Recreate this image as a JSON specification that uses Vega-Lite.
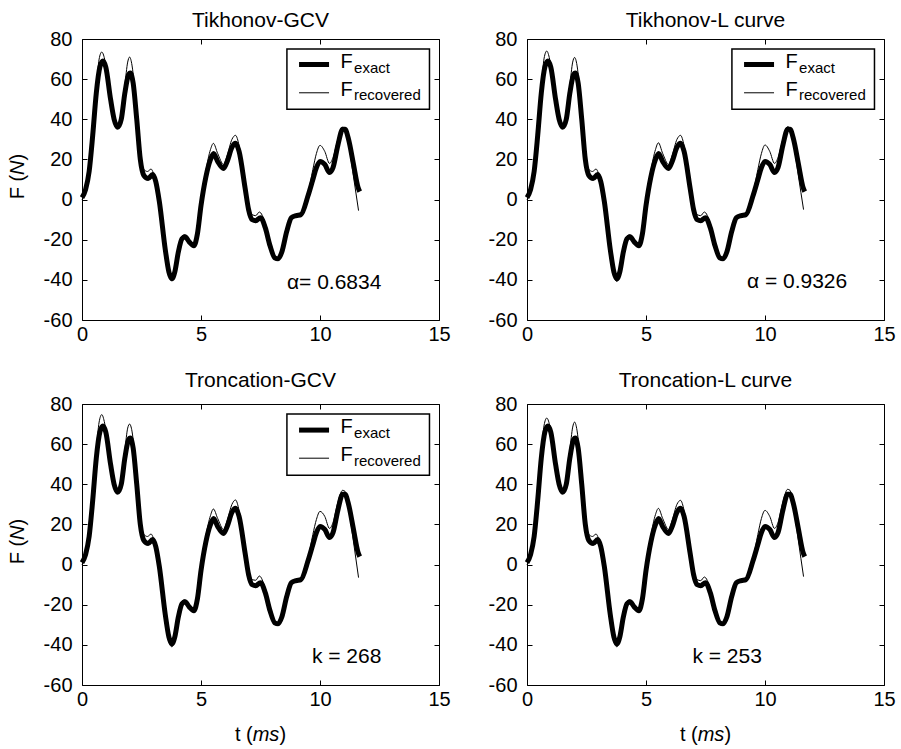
{
  "$schema": "https://vega.github.io/schema/vega-lite/v6.json",
  "background": "white",
  "padding": {"left": 7, "top": 9, "right": 4, "bottom": 0},
  "config": {
    "font": "Liberation Sans",
    "view": {"stroke": "black", "strokeWidth": 1},
    "axis": {
      "domain": false, "grid": false, "ticks": true, "tickSize": -5, "tickColor": "black", "tickWidth": 1,
      "labelFont": "Liberation Sans", "labelFontSize": 20, "labelColor": "black", "labelFlush": false
    },
    "title": {"font": "Liberation Sans", "fontSize": 21, "fontWeight": "normal", "color": "black", "anchor": "middle", "baseline": "alphabetic"},
    "text": {"font": "Liberation Sans", "color": "black", "fontSize": 20}
  },
  "datasets": {
    "exact": [
      {"t":0,"F":1},{"t":0.15,"F":5},{"t":0.3,"F":14},{"t":0.45,"F":32},{"t":0.6,"F":53},{"t":0.75,"F":66},{"t":0.88,"F":69},{"t":1.0,"F":66},{"t":1.2,"F":50},{"t":1.35,"F":40},{"t":1.5,"F":36},{"t":1.65,"F":40},{"t":1.8,"F":53},{"t":1.95,"F":62},{"t":2.03,"F":63},{"t":2.15,"F":58},{"t":2.3,"F":40},{"t":2.45,"F":20},{"t":2.6,"F":12},{"t":2.78,"F":10.5},{"t":2.97,"F":12.5},{"t":3.1,"F":9},{"t":3.25,"F":-1},{"t":3.5,"F":-25},{"t":3.65,"F":-36},{"t":3.78,"F":-39.5},{"t":3.9,"F":-36},{"t":4.05,"F":-26},{"t":4.2,"F":-19.5},{"t":4.33,"F":-18.5},{"t":4.5,"F":-21},{"t":4.7,"F":-23},{"t":4.85,"F":-17},{"t":5.0,"F":-3},{"t":5.2,"F":11},{"t":5.4,"F":20},{"t":5.53,"F":23},{"t":5.7,"F":19},{"t":5.95,"F":15.5},{"t":6.1,"F":19},{"t":6.3,"F":26},{"t":6.45,"F":28},{"t":6.6,"F":24},{"t":6.85,"F":6},{"t":7.0,"F":-5},{"t":7.15,"F":-10},{"t":7.3,"F":-10.5},{"t":7.5,"F":-9},{"t":7.7,"F":-14},{"t":7.9,"F":-23},{"t":8.1,"F":-29},{"t":8.24,"F":-29.5},{"t":8.4,"F":-26},{"t":8.6,"F":-16},{"t":8.8,"F":-9},{"t":9.0,"F":-8},{"t":9.2,"F":-7.5},{"t":9.5,"F":2},{"t":9.7,"F":10},{"t":9.85,"F":16},{"t":10.0,"F":19},{"t":10.2,"F":17.5},{"t":10.4,"F":13.5},{"t":10.55,"F":16},{"t":10.75,"F":27},{"t":10.95,"F":35},{"t":11.05,"F":35},{"t":11.2,"F":30},{"t":11.4,"F":18},{"t":11.6,"F":6},{"t":11.67,"F":4}
    ],
    "recovered": [
      {"panel":"TG","t":0,"F":0},{"panel":"TG","t":0.15,"F":4},{"panel":"TG","t":0.3,"F":14},{"panel":"TG","t":0.45,"F":33},{"panel":"TG","t":0.6,"F":56},{"panel":"TG","t":0.72,"F":70},{"panel":"TG","t":0.83,"F":73.5},{"panel":"TG","t":0.95,"F":70},{"panel":"TG","t":1.1,"F":58},{"panel":"TG","t":1.25,"F":45},{"panel":"TG","t":1.4,"F":38.5},{"panel":"TG","t":1.5,"F":37},{"panel":"TG","t":1.65,"F":42},{"panel":"TG","t":1.8,"F":57},{"panel":"TG","t":1.92,"F":68.5},{"panel":"TG","t":2.0,"F":71},{"panel":"TG","t":2.1,"F":67},{"panel":"TG","t":2.3,"F":42},{"panel":"TG","t":2.45,"F":22},{"panel":"TG","t":2.6,"F":15},{"panel":"TG","t":2.75,"F":14},{"panel":"TG","t":2.9,"F":15.2},{"panel":"TG","t":3.05,"F":11},{"panel":"TG","t":3.25,"F":-2},{"panel":"TG","t":3.5,"F":-27},{"panel":"TG","t":3.65,"F":-38},{"panel":"TG","t":3.78,"F":-40.5},{"panel":"TG","t":3.9,"F":-37},{"panel":"TG","t":4.05,"F":-26},{"panel":"TG","t":4.2,"F":-18.5},{"panel":"TG","t":4.3,"F":-17.5},{"panel":"TG","t":4.5,"F":-20},{"panel":"TG","t":4.7,"F":-22.5},{"panel":"TG","t":4.85,"F":-16},{"panel":"TG","t":5.0,"F":-2},{"panel":"TG","t":5.2,"F":14},{"panel":"TG","t":5.4,"F":25},{"panel":"TG","t":5.52,"F":28},{"panel":"TG","t":5.7,"F":23},{"panel":"TG","t":5.95,"F":17.5},{"panel":"TG","t":6.1,"F":22},{"panel":"TG","t":6.3,"F":30},{"panel":"TG","t":6.45,"F":32},{"panel":"TG","t":6.6,"F":27},{"panel":"TG","t":6.85,"F":7},{"panel":"TG","t":7.0,"F":-3},{"panel":"TG","t":7.15,"F":-7.5},{"panel":"TG","t":7.3,"F":-8},{"panel":"TG","t":7.45,"F":-6.2},{"panel":"TG","t":7.7,"F":-12},{"panel":"TG","t":7.9,"F":-22},{"panel":"TG","t":8.1,"F":-29.5},{"panel":"TG","t":8.24,"F":-30},{"panel":"TG","t":8.4,"F":-26},{"panel":"TG","t":8.6,"F":-15},{"panel":"TG","t":8.8,"F":-8.5},{"panel":"TG","t":9.0,"F":-7.5},{"panel":"TG","t":9.2,"F":-6.5},{"panel":"TG","t":9.5,"F":3},{"panel":"TG","t":9.7,"F":15},{"panel":"TG","t":9.85,"F":23},{"panel":"TG","t":10.0,"F":27},{"panel":"TG","t":10.2,"F":24},{"panel":"TG","t":10.4,"F":18},{"panel":"TG","t":10.55,"F":21},{"panel":"TG","t":10.75,"F":30},{"panel":"TG","t":10.95,"F":36},{"panel":"TG","t":11.05,"F":35.5},{"panel":"TG","t":11.2,"F":28},{"panel":"TG","t":11.4,"F":12},{"panel":"TG","t":11.62,"F":-5.5},

      {"panel":"TL","t":0,"F":0},{"panel":"TL","t":0.15,"F":4},{"panel":"TL","t":0.3,"F":14},{"panel":"TL","t":0.45,"F":33},{"panel":"TL","t":0.6,"F":56},{"panel":"TL","t":0.72,"F":70.5},{"panel":"TL","t":0.83,"F":74},{"panel":"TL","t":0.95,"F":70},{"panel":"TL","t":1.1,"F":58},{"panel":"TL","t":1.25,"F":45},{"panel":"TL","t":1.4,"F":38.5},{"panel":"TL","t":1.5,"F":37},{"panel":"TL","t":1.65,"F":42},{"panel":"TL","t":1.8,"F":57},{"panel":"TL","t":1.92,"F":68.5},{"panel":"TL","t":2.0,"F":70.8},{"panel":"TL","t":2.1,"F":67},{"panel":"TL","t":2.3,"F":42},{"panel":"TL","t":2.45,"F":22},{"panel":"TL","t":2.6,"F":15},{"panel":"TL","t":2.75,"F":14},{"panel":"TL","t":2.9,"F":15.2},{"panel":"TL","t":3.05,"F":11},{"panel":"TL","t":3.25,"F":-2},{"panel":"TL","t":3.5,"F":-27},{"panel":"TL","t":3.65,"F":-38},{"panel":"TL","t":3.78,"F":-40.8},{"panel":"TL","t":3.9,"F":-37},{"panel":"TL","t":4.05,"F":-26},{"panel":"TL","t":4.2,"F":-18.5},{"panel":"TL","t":4.3,"F":-17.5},{"panel":"TL","t":4.5,"F":-20},{"panel":"TL","t":4.7,"F":-22.5},{"panel":"TL","t":4.85,"F":-16},{"panel":"TL","t":5.0,"F":-2},{"panel":"TL","t":5.2,"F":14},{"panel":"TL","t":5.4,"F":25},{"panel":"TL","t":5.52,"F":28.3},{"panel":"TL","t":5.7,"F":23},{"panel":"TL","t":5.95,"F":17.5},{"panel":"TL","t":6.1,"F":22},{"panel":"TL","t":6.3,"F":30},{"panel":"TL","t":6.45,"F":32},{"panel":"TL","t":6.6,"F":27},{"panel":"TL","t":6.85,"F":7},{"panel":"TL","t":7.0,"F":-3},{"panel":"TL","t":7.15,"F":-7.5},{"panel":"TL","t":7.3,"F":-8},{"panel":"TL","t":7.45,"F":-6.2},{"panel":"TL","t":7.7,"F":-12},{"panel":"TL","t":7.9,"F":-22},{"panel":"TL","t":8.1,"F":-29.5},{"panel":"TL","t":8.24,"F":-30},{"panel":"TL","t":8.4,"F":-26},{"panel":"TL","t":8.6,"F":-15},{"panel":"TL","t":8.8,"F":-8.5},{"panel":"TL","t":9.0,"F":-7.5},{"panel":"TL","t":9.2,"F":-6.5},{"panel":"TL","t":9.5,"F":3},{"panel":"TL","t":9.7,"F":15},{"panel":"TL","t":9.85,"F":23},{"panel":"TL","t":10.0,"F":27.2},{"panel":"TL","t":10.2,"F":24},{"panel":"TL","t":10.4,"F":18},{"panel":"TL","t":10.55,"F":21},{"panel":"TL","t":10.75,"F":30},{"panel":"TL","t":10.95,"F":36.3},{"panel":"TL","t":11.05,"F":35.5},{"panel":"TL","t":11.2,"F":28},{"panel":"TL","t":11.4,"F":12},{"panel":"TL","t":11.62,"F":-5},

      {"panel":"CG","t":0,"F":0},{"panel":"CG","t":0.15,"F":4},{"panel":"CG","t":0.3,"F":14},{"panel":"CG","t":0.45,"F":33},{"panel":"CG","t":0.6,"F":57},{"panel":"CG","t":0.72,"F":71},{"panel":"CG","t":0.83,"F":74.7},{"panel":"CG","t":0.95,"F":70.5},{"panel":"CG","t":1.1,"F":58},{"panel":"CG","t":1.25,"F":45},{"panel":"CG","t":1.4,"F":38.5},{"panel":"CG","t":1.5,"F":37},{"panel":"CG","t":1.65,"F":42},{"panel":"CG","t":1.8,"F":57},{"panel":"CG","t":1.92,"F":68},{"panel":"CG","t":2.0,"F":70},{"panel":"CG","t":2.1,"F":66.5},{"panel":"CG","t":2.3,"F":42},{"panel":"CG","t":2.45,"F":22},{"panel":"CG","t":2.6,"F":15},{"panel":"CG","t":2.75,"F":14},{"panel":"CG","t":2.9,"F":15.2},{"panel":"CG","t":3.05,"F":11},{"panel":"CG","t":3.25,"F":-2},{"panel":"CG","t":3.5,"F":-27},{"panel":"CG","t":3.65,"F":-38.5},{"panel":"CG","t":3.78,"F":-41},{"panel":"CG","t":3.9,"F":-37},{"panel":"CG","t":4.05,"F":-26},{"panel":"CG","t":4.2,"F":-18.5},{"panel":"CG","t":4.3,"F":-17.5},{"panel":"CG","t":4.5,"F":-20},{"panel":"CG","t":4.7,"F":-22.5},{"panel":"CG","t":4.85,"F":-16},{"panel":"CG","t":5.0,"F":-2},{"panel":"CG","t":5.2,"F":14},{"panel":"CG","t":5.4,"F":24.5},{"panel":"CG","t":5.52,"F":27.7},{"panel":"CG","t":5.7,"F":23},{"panel":"CG","t":5.95,"F":17.5},{"panel":"CG","t":6.1,"F":22},{"panel":"CG","t":6.3,"F":30},{"panel":"CG","t":6.45,"F":32.2},{"panel":"CG","t":6.6,"F":27},{"panel":"CG","t":6.85,"F":7},{"panel":"CG","t":7.0,"F":-3},{"panel":"CG","t":7.15,"F":-7.5},{"panel":"CG","t":7.3,"F":-7.8},{"panel":"CG","t":7.45,"F":-5.7},{"panel":"CG","t":7.7,"F":-12},{"panel":"CG","t":7.9,"F":-22},{"panel":"CG","t":8.1,"F":-29.5},{"panel":"CG","t":8.24,"F":-30},{"panel":"CG","t":8.4,"F":-26},{"panel":"CG","t":8.6,"F":-15},{"panel":"CG","t":8.8,"F":-8.5},{"panel":"CG","t":9.0,"F":-7.5},{"panel":"CG","t":9.2,"F":-6.5},{"panel":"CG","t":9.5,"F":3},{"panel":"CG","t":9.7,"F":15},{"panel":"CG","t":9.85,"F":22.5},{"panel":"CG","t":10.0,"F":26.5},{"panel":"CG","t":10.2,"F":24},{"panel":"CG","t":10.4,"F":18},{"panel":"CG","t":10.55,"F":21},{"panel":"CG","t":10.75,"F":31},{"panel":"CG","t":10.95,"F":37},{"panel":"CG","t":11.05,"F":36.5},{"panel":"CG","t":11.2,"F":28.5},{"panel":"CG","t":11.4,"F":12},{"panel":"CG","t":11.62,"F":-6.5},

      {"panel":"CL","t":0,"F":0},{"panel":"CL","t":0.15,"F":4},{"panel":"CL","t":0.3,"F":14},{"panel":"CL","t":0.45,"F":33},{"panel":"CL","t":0.6,"F":56},{"panel":"CL","t":0.72,"F":69.5},{"panel":"CL","t":0.83,"F":73},{"panel":"CL","t":0.95,"F":69.5},{"panel":"CL","t":1.1,"F":58},{"panel":"CL","t":1.25,"F":45},{"panel":"CL","t":1.4,"F":38.5},{"panel":"CL","t":1.5,"F":37},{"panel":"CL","t":1.65,"F":42},{"panel":"CL","t":1.8,"F":57},{"panel":"CL","t":1.92,"F":68.5},{"panel":"CL","t":2.0,"F":71},{"panel":"CL","t":2.1,"F":67},{"panel":"CL","t":2.3,"F":42},{"panel":"CL","t":2.45,"F":22},{"panel":"CL","t":2.6,"F":15},{"panel":"CL","t":2.75,"F":14},{"panel":"CL","t":2.9,"F":15.2},{"panel":"CL","t":3.05,"F":11},{"panel":"CL","t":3.25,"F":-2},{"panel":"CL","t":3.5,"F":-27},{"panel":"CL","t":3.65,"F":-38.5},{"panel":"CL","t":3.78,"F":-41},{"panel":"CL","t":3.9,"F":-37},{"panel":"CL","t":4.05,"F":-26},{"panel":"CL","t":4.2,"F":-18.5},{"panel":"CL","t":4.3,"F":-17.5},{"panel":"CL","t":4.5,"F":-20},{"panel":"CL","t":4.7,"F":-22.5},{"panel":"CL","t":4.85,"F":-16},{"panel":"CL","t":5.0,"F":-2},{"panel":"CL","t":5.2,"F":14},{"panel":"CL","t":5.4,"F":25},{"panel":"CL","t":5.52,"F":28},{"panel":"CL","t":5.7,"F":23},{"panel":"CL","t":5.95,"F":17.5},{"panel":"CL","t":6.1,"F":22},{"panel":"CL","t":6.3,"F":30},{"panel":"CL","t":6.45,"F":32},{"panel":"CL","t":6.6,"F":27},{"panel":"CL","t":6.85,"F":7},{"panel":"CL","t":7.0,"F":-3},{"panel":"CL","t":7.15,"F":-7.5},{"panel":"CL","t":7.3,"F":-8},{"panel":"CL","t":7.45,"F":-6.2},{"panel":"CL","t":7.7,"F":-12},{"panel":"CL","t":7.9,"F":-22},{"panel":"CL","t":8.1,"F":-29.5},{"panel":"CL","t":8.24,"F":-30},{"panel":"CL","t":8.4,"F":-26},{"panel":"CL","t":8.6,"F":-15},{"panel":"CL","t":8.8,"F":-8.5},{"panel":"CL","t":9.0,"F":-7.5},{"panel":"CL","t":9.2,"F":-6.5},{"panel":"CL","t":9.5,"F":3},{"panel":"CL","t":9.7,"F":15},{"panel":"CL","t":9.85,"F":23},{"panel":"CL","t":10.0,"F":27},{"panel":"CL","t":10.2,"F":24},{"panel":"CL","t":10.4,"F":18},{"panel":"CL","t":10.55,"F":21},{"panel":"CL","t":10.75,"F":31},{"panel":"CL","t":10.95,"F":37.5},{"panel":"CL","t":11.05,"F":37},{"panel":"CL","t":11.2,"F":29},{"panel":"CL","t":11.4,"F":12},{"panel":"CL","t":11.62,"F":-6}
    ]
  },
  "columns": 2,
  "spacing": {"row": 84, "column": 88},
  "bounds": "flush",
  "concat": [
    {
      "width": 357, "height": 281,
      "title": {"text": "Tikhonov-GCV", "offset": -2},
      "resolve": {"axis": {"x": "independent", "y": "independent"}},
      "layer": [
        {"data": {"name": "exact"}, "mark": {"type": "line", "interpolate": "monotone", "strokeWidth": 5, "color": "black"},
         "encoding": {
           "x": {"field": "t", "type": "quantitative", "scale": {"domain": [0, 15], "nice": false, "zero": false}, "axis": {"orient": "bottom", "title": null, "values": [0, 5, 10, 15], "labelPadding": 9.5, "labelExpr": "'' + datum.value"}},
           "y": {"field": "F", "type": "quantitative", "scale": {"domain": [-60, 80], "nice": false, "zero": false}, "axis": {"orient": "left", "title": null, "values": [-60, -40, -20, 0, 20, 40, 60, 80], "labelPadding": 15, "labelExpr": "'' + datum.value"}}}},
        {"data": {"name": "recovered"}, "transform": [{"filter": {"field": "panel", "equal": "TG"}}], "mark": {"type": "line", "interpolate": "monotone", "strokeWidth": 1, "color": "black"},
         "encoding": {
           "x": {"field": "t", "type": "quantitative", "axis": {"orient": "top", "title": null, "labels": false, "values": [0, 5, 10, 15]}},
           "y": {"field": "F", "type": "quantitative", "axis": {"orient": "right", "title": null, "labels": false, "values": [-60, -40, -20, 0, 20, 40, 60, 80]}}}},
        {"data": {"values": [{}]}, "mark": {"type": "rect", "fill": "white", "stroke": "black", "strokeWidth": 1.5},
         "encoding": {"x": {"datum": 8.61, "axis": null}, "x2": {"datum": 14.6}, "y": {"datum": 75, "axis": null}, "y2": {"datum": 45}}},
        {"data": {"values": [{}]}, "mark": {"type": "rule", "strokeWidth": 5, "color": "black"},
         "encoding": {"x": {"datum": 9.12, "axis": null}, "x2": {"datum": 10.38}, "y": {"datum": 67.3, "axis": null}}},
        {"data": {"values": [{}]}, "mark": {"type": "rule", "strokeWidth": 1, "color": "black"},
         "encoding": {"x": {"datum": 9.12, "axis": null}, "x2": {"datum": 10.38}, "y": {"datum": 53.2, "axis": null}}},
        {"data": {"values": [{}]}, "mark": {"type": "text", "text": "F", "align": "left", "baseline": "alphabetic", "fontSize": 20},
         "encoding": {"x": {"datum": 10.86, "axis": null}, "y": {"datum": 65.8, "axis": null}}},
        {"data": {"values": [{}]}, "mark": {"type": "text", "text": "exact", "align": "left", "baseline": "alphabetic", "fontSize": 15},
         "encoding": {"x": {"datum": 11.43, "axis": null}, "y": {"datum": 63.2, "axis": null}}},
        {"data": {"values": [{}]}, "mark": {"type": "text", "text": "F", "align": "left", "baseline": "alphabetic", "fontSize": 20},
         "encoding": {"x": {"datum": 10.86, "axis": null}, "y": {"datum": 51.8, "axis": null}}},
        {"data": {"values": [{}]}, "mark": {"type": "text", "text": "recovered", "align": "left", "baseline": "alphabetic", "fontSize": 15},
         "encoding": {"x": {"datum": 11.43, "axis": null}, "y": {"datum": 49.5, "axis": null}}},
        {"data": {"values": [{}]}, "mark": {"type": "text", "text": "α= 0.6834", "align": "left", "baseline": "alphabetic", "fontSize": 21},
         "encoding": {"x": {"datum": 8.61, "axis": null}, "y": {"datum": -44.5, "axis": null}}},
        {"data": {"values": [{}]}, "mark": {"type": "text", "text": "F (", "angle": 270, "align": "left", "baseline": "alphabetic", "dx": -19.8, "dy": -58},
         "encoding": {"x": {"datum": 0, "axis": null}, "y": {"datum": 10, "axis": null}}},
        {"data": {"values": [{}]}, "mark": {"type": "text", "text": "N", "fontStyle": "italic", "angle": 270, "align": "left", "baseline": "alphabetic", "dx": 4.6, "dy": -58},
         "encoding": {"x": {"datum": 0, "axis": null}, "y": {"datum": 10, "axis": null}}},
        {"data": {"values": [{}]}, "mark": {"type": "text", "text": ")", "angle": 270, "align": "left", "baseline": "alphabetic", "dx": 19, "dy": -58},
         "encoding": {"x": {"datum": 0, "axis": null}, "y": {"datum": 10, "axis": null}}}
      ]
    },
    {
      "width": 357, "height": 281,
      "title": {"text": "Tikhonov-L curve", "offset": -2},
      "resolve": {"axis": {"x": "independent", "y": "independent"}},
      "layer": [
        {"data": {"name": "exact"}, "mark": {"type": "line", "interpolate": "monotone", "strokeWidth": 5, "color": "black"},
         "encoding": {
           "x": {"field": "t", "type": "quantitative", "scale": {"domain": [0, 15], "nice": false, "zero": false}, "axis": {"orient": "bottom", "title": null, "values": [0, 5, 10, 15], "labelPadding": 9.5, "labelExpr": "'' + datum.value"}},
           "y": {"field": "F", "type": "quantitative", "scale": {"domain": [-60, 80], "nice": false, "zero": false}, "axis": {"orient": "left", "title": null, "values": [-60, -40, -20, 0, 20, 40, 60, 80], "labelPadding": 15, "labelExpr": "'' + datum.value"}}}},
        {"data": {"name": "recovered"}, "transform": [{"filter": {"field": "panel", "equal": "TL"}}], "mark": {"type": "line", "interpolate": "monotone", "strokeWidth": 1, "color": "black"},
         "encoding": {
           "x": {"field": "t", "type": "quantitative", "axis": {"orient": "top", "title": null, "labels": false, "values": [0, 5, 10, 15]}},
           "y": {"field": "F", "type": "quantitative", "axis": {"orient": "right", "title": null, "labels": false, "values": [-60, -40, -20, 0, 20, 40, 60, 80]}}}},
        {"data": {"values": [{}]}, "mark": {"type": "rect", "fill": "white", "stroke": "black", "strokeWidth": 1.5},
         "encoding": {"x": {"datum": 8.61, "axis": null}, "x2": {"datum": 14.6}, "y": {"datum": 75, "axis": null}, "y2": {"datum": 45}}},
        {"data": {"values": [{}]}, "mark": {"type": "rule", "strokeWidth": 5, "color": "black"},
         "encoding": {"x": {"datum": 9.12, "axis": null}, "x2": {"datum": 10.38}, "y": {"datum": 67.3, "axis": null}}},
        {"data": {"values": [{}]}, "mark": {"type": "rule", "strokeWidth": 1, "color": "black"},
         "encoding": {"x": {"datum": 9.12, "axis": null}, "x2": {"datum": 10.38}, "y": {"datum": 53.2, "axis": null}}},
        {"data": {"values": [{}]}, "mark": {"type": "text", "text": "F", "align": "left", "baseline": "alphabetic", "fontSize": 20},
         "encoding": {"x": {"datum": 10.86, "axis": null}, "y": {"datum": 65.8, "axis": null}}},
        {"data": {"values": [{}]}, "mark": {"type": "text", "text": "exact", "align": "left", "baseline": "alphabetic", "fontSize": 15},
         "encoding": {"x": {"datum": 11.43, "axis": null}, "y": {"datum": 63.2, "axis": null}}},
        {"data": {"values": [{}]}, "mark": {"type": "text", "text": "F", "align": "left", "baseline": "alphabetic", "fontSize": 20},
         "encoding": {"x": {"datum": 10.86, "axis": null}, "y": {"datum": 51.8, "axis": null}}},
        {"data": {"values": [{}]}, "mark": {"type": "text", "text": "recovered", "align": "left", "baseline": "alphabetic", "fontSize": 15},
         "encoding": {"x": {"datum": 11.43, "axis": null}, "y": {"datum": 49.5, "axis": null}}},
        {"data": {"values": [{}]}, "mark": {"type": "text", "text": "α = 0.9326", "align": "left", "baseline": "alphabetic", "fontSize": 21},
         "encoding": {"x": {"datum": 9.24, "axis": null}, "y": {"datum": -44, "axis": null}}}
      ]
    },
    {
      "width": 357, "height": 281,
      "title": {"text": "Troncation-GCV", "offset": 3.5},
      "resolve": {"axis": {"x": "independent", "y": "independent"}},
      "layer": [
        {"data": {"name": "exact"}, "mark": {"type": "line", "interpolate": "monotone", "strokeWidth": 5, "color": "black"},
         "encoding": {
           "x": {"field": "t", "type": "quantitative", "scale": {"domain": [0, 15], "nice": false, "zero": false}, "axis": {"orient": "bottom", "title": null, "values": [0, 5, 10, 15], "labelPadding": 9.5, "labelExpr": "'' + datum.value"}},
           "y": {"field": "F", "type": "quantitative", "scale": {"domain": [-60, 80], "nice": false, "zero": false}, "axis": {"orient": "left", "title": null, "values": [-60, -40, -20, 0, 20, 40, 60, 80], "labelPadding": 15, "labelExpr": "'' + datum.value"}}}},
        {"data": {"name": "recovered"}, "transform": [{"filter": {"field": "panel", "equal": "CG"}}], "mark": {"type": "line", "interpolate": "monotone", "strokeWidth": 1, "color": "black"},
         "encoding": {
           "x": {"field": "t", "type": "quantitative", "axis": {"orient": "top", "title": null, "labels": false, "values": [0, 5, 10, 15]}},
           "y": {"field": "F", "type": "quantitative", "axis": {"orient": "right", "title": null, "labels": false, "values": [-60, -40, -20, 0, 20, 40, 60, 80]}}}},
        {"data": {"values": [{}]}, "mark": {"type": "rect", "fill": "white", "stroke": "black", "strokeWidth": 1.5},
         "encoding": {"x": {"datum": 8.61, "axis": null}, "x2": {"datum": 14.6}, "y": {"datum": 75, "axis": null}, "y2": {"datum": 44.5}}},
        {"data": {"values": [{}]}, "mark": {"type": "rule", "strokeWidth": 5, "color": "black"},
         "encoding": {"x": {"datum": 9.12, "axis": null}, "x2": {"datum": 10.38}, "y": {"datum": 67, "axis": null}}},
        {"data": {"values": [{}]}, "mark": {"type": "rule", "strokeWidth": 1, "color": "black"},
         "encoding": {"x": {"datum": 9.12, "axis": null}, "x2": {"datum": 10.38}, "y": {"datum": 53, "axis": null}}},
        {"data": {"values": [{}]}, "mark": {"type": "text", "text": "F", "align": "left", "baseline": "alphabetic", "fontSize": 20},
         "encoding": {"x": {"datum": 10.86, "axis": null}, "y": {"datum": 65.5, "axis": null}}},
        {"data": {"values": [{}]}, "mark": {"type": "text", "text": "exact", "align": "left", "baseline": "alphabetic", "fontSize": 15},
         "encoding": {"x": {"datum": 11.43, "axis": null}, "y": {"datum": 63, "axis": null}}},
        {"data": {"values": [{}]}, "mark": {"type": "text", "text": "F", "align": "left", "baseline": "alphabetic", "fontSize": 20},
         "encoding": {"x": {"datum": 10.86, "axis": null}, "y": {"datum": 51.5, "axis": null}}},
        {"data": {"values": [{}]}, "mark": {"type": "text", "text": "recovered", "align": "left", "baseline": "alphabetic", "fontSize": 15},
         "encoding": {"x": {"datum": 11.43, "axis": null}, "y": {"datum": 49.2, "axis": null}}},
        {"data": {"values": [{}]}, "mark": {"type": "text", "text": "k = 268", "align": "left", "baseline": "alphabetic", "fontSize": 21},
         "encoding": {"x": {"datum": 9.66, "axis": null}, "y": {"datum": -49, "axis": null}}},
        {"data": {"values": [{}]}, "mark": {"type": "text", "text": "F (", "angle": 270, "align": "left", "baseline": "alphabetic", "dx": -19.8, "dy": -58},
         "encoding": {"x": {"datum": 0, "axis": null}, "y": {"datum": 10, "axis": null}}},
        {"data": {"values": [{}]}, "mark": {"type": "text", "text": "N", "fontStyle": "italic", "angle": 270, "align": "left", "baseline": "alphabetic", "dx": 4.6, "dy": -58},
         "encoding": {"x": {"datum": 0, "axis": null}, "y": {"datum": 10, "axis": null}}},
        {"data": {"values": [{}]}, "mark": {"type": "text", "text": ")", "angle": 270, "align": "left", "baseline": "alphabetic", "dx": 19, "dy": -58},
         "encoding": {"x": {"datum": 0, "axis": null}, "y": {"datum": 10, "axis": null}}},
        {"data": {"values": [{}]}, "mark": {"type": "text", "text": "t (", "align": "left", "baseline": "alphabetic", "dx": -25.6, "dy": 55.5},
         "encoding": {"x": {"datum": 7.5, "axis": null}, "y": {"datum": -60, "axis": null}}},
        {"data": {"values": [{}]}, "mark": {"type": "text", "text": "ms", "fontStyle": "italic", "align": "left", "baseline": "alphabetic", "dx": -7.8, "dy": 55.5},
         "encoding": {"x": {"datum": 7.5, "axis": null}, "y": {"datum": -60, "axis": null}}},
        {"data": {"values": [{}]}, "mark": {"type": "text", "text": ")", "align": "left", "baseline": "alphabetic", "dx": 18.9, "dy": 55.5},
         "encoding": {"x": {"datum": 7.5, "axis": null}, "y": {"datum": -60, "axis": null}}}
      ]
    },
    {
      "width": 357, "height": 281,
      "title": {"text": "Troncation-L curve", "offset": 3.5},
      "resolve": {"axis": {"x": "independent", "y": "independent"}},
      "layer": [
        {"data": {"name": "exact"}, "mark": {"type": "line", "interpolate": "monotone", "strokeWidth": 5, "color": "black"},
         "encoding": {
           "x": {"field": "t", "type": "quantitative", "scale": {"domain": [0, 15], "nice": false, "zero": false}, "axis": {"orient": "bottom", "title": null, "values": [0, 5, 10, 15], "labelPadding": 9.5, "labelExpr": "'' + datum.value"}},
           "y": {"field": "F", "type": "quantitative", "scale": {"domain": [-60, 80], "nice": false, "zero": false}, "axis": {"orient": "left", "title": null, "values": [-60, -40, -20, 0, 20, 40, 60, 80], "labelPadding": 15, "labelExpr": "'' + datum.value"}}}},
        {"data": {"name": "recovered"}, "transform": [{"filter": {"field": "panel", "equal": "CL"}}], "mark": {"type": "line", "interpolate": "monotone", "strokeWidth": 1, "color": "black"},
         "encoding": {
           "x": {"field": "t", "type": "quantitative", "axis": {"orient": "top", "title": null, "labels": false, "values": [0, 5, 10, 15]}},
           "y": {"field": "F", "type": "quantitative", "axis": {"orient": "right", "title": null, "labels": false, "values": [-60, -40, -20, 0, 20, 40, 60, 80]}}}},
        {"data": {"values": [{}]}, "mark": {"type": "text", "text": "k = 253", "align": "left", "baseline": "alphabetic", "fontSize": 21},
         "encoding": {"x": {"datum": 6.95, "axis": null}, "y": {"datum": -49, "axis": null}}},
        {"data": {"values": [{}]}, "mark": {"type": "text", "text": "t (", "align": "left", "baseline": "alphabetic", "dx": -25.6, "dy": 55.5},
         "encoding": {"x": {"datum": 7.5, "axis": null}, "y": {"datum": -60, "axis": null}}},
        {"data": {"values": [{}]}, "mark": {"type": "text", "text": "ms", "fontStyle": "italic", "align": "left", "baseline": "alphabetic", "dx": -7.8, "dy": 55.5},
         "encoding": {"x": {"datum": 7.5, "axis": null}, "y": {"datum": -60, "axis": null}}},
        {"data": {"values": [{}]}, "mark": {"type": "text", "text": ")", "align": "left", "baseline": "alphabetic", "dx": 18.9, "dy": 55.5},
         "encoding": {"x": {"datum": 7.5, "axis": null}, "y": {"datum": -60, "axis": null}}}
      ]
    }
  ]
}
